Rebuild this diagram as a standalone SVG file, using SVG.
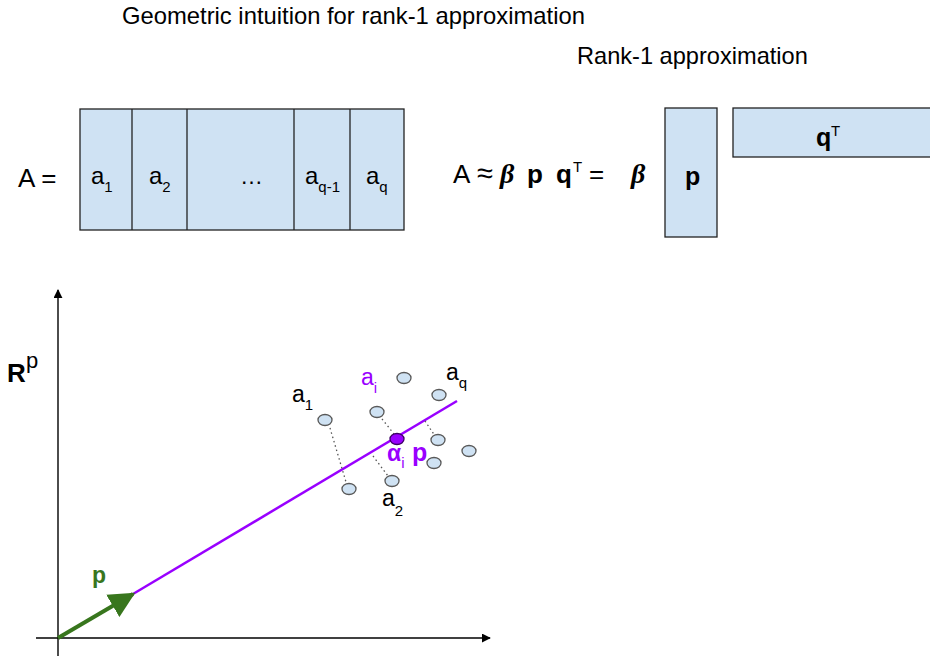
<svg xmlns="http://www.w3.org/2000/svg" width="930" height="656" viewBox="0 0 930 656">
<defs>
<style>
.t{font-family:"Liberation Sans",Arial,sans-serif;fill:#000}
.box{fill:#cfe2f3;stroke:#222;stroke-width:1.3}
.dot{fill:#cfe2f3;stroke:#595959;stroke-width:1.3}
.dotted{stroke:#555;stroke-width:1.3;stroke-dasharray:1.5,3;fill:none}
.beta{font-family:"Liberation Serif","Times New Roman",serif;font-weight:bold;font-style:italic}
.pur{fill:#9900ff}
.grn{fill:#38761d}
</style>
<marker id="axh" viewBox="0 0 10 10" refX="9" refY="5" markerWidth="9" markerHeight="9" markerUnits="userSpaceOnUse" orient="auto">
<path d="M0,0 L10,5 L0,10 z" fill="#000"/>
</marker>
<marker id="gh" viewBox="0 0 10 10" refX="9" refY="5" markerWidth="6.5" markerHeight="6.5" orient="auto">
<path d="M0,0 L10,5 L0,10 z" fill="#38761d"/>
</marker>
</defs>
<rect width="930" height="656" fill="#fff"/>

<g id="titles">
<text class="t" x="122" y="24" font-size="23.8">Geometric intuition for rank-1 approximation</text>
<text class="t" x="577" y="64" font-size="23.6">Rank-1 approximation</text>
</g>

<g id="matrixA">
<text class="t" x="18" y="187" font-size="26">A =</text>
<rect class="box" x="80" y="109" width="324" height="121"/>
<line x1="132" y1="109" x2="132" y2="230" stroke="#222" stroke-width="1.3"/>
<line x1="187" y1="109" x2="187" y2="230" stroke="#222" stroke-width="1.3"/>
<line x1="294" y1="109" x2="294" y2="230" stroke="#222" stroke-width="1.3"/>
<line x1="350" y1="109" x2="350" y2="230" stroke="#222" stroke-width="1.3"/>
<text class="t" x="91" y="184" font-size="24">a<tspan font-size="15" dy="8">1</tspan></text>
<text class="t" x="149" y="184" font-size="24">a<tspan font-size="15" dy="8">2</tspan></text>
<text class="t" x="240" y="184" font-size="23">…</text>
<text class="t" x="305" y="184" font-size="24">a<tspan font-size="15" dy="8">q-1</tspan></text>
<text class="t" x="366" y="184" font-size="24">a<tspan font-size="15" dy="8">q</tspan></text>
</g>

<g id="formula">
<text class="t" x="453" y="183" font-size="26">A</text>
<text class="t" x="477" y="183" font-size="29">≈</text>
<text class="t beta" x="500" y="183" font-size="28">β</text>
<text class="t" x="527" y="183" font-size="26" font-weight="bold">p</text>
<text class="t" x="556" y="183" font-size="26" font-weight="bold">q</text>
<text class="t" x="573" y="172" font-size="15">T</text>
<text class="t" x="589" y="183" font-size="26">=</text>
<text class="t beta" x="631" y="183" font-size="28">β</text>
</g>

<g id="vecP">
<rect class="box" x="665" y="108" width="52" height="129"/>
<text class="t" x="685" y="185" font-size="25" font-weight="bold">p</text>
</g>

<g id="vecQT">
<rect class="box" x="733" y="108" width="200" height="49"/>
<text class="t" x="816" y="146" font-size="25" font-weight="bold">q</text>
<text class="t" x="831" y="136" font-size="15">T</text>
</g>

<g id="connectors">
<line x1="58" y1="656" x2="58" y2="290" stroke="#000" stroke-width="1.4" marker-end="url(#axh)"/>
<line x1="36" y1="638" x2="490" y2="638" stroke="#000" stroke-width="1.4" marker-end="url(#axh)"/>
<line x1="133" y1="594" x2="457" y2="401" stroke="#9900ff" stroke-width="2.5"/>
<line x1="58" y1="638" x2="133" y2="594" stroke="#38761d" stroke-width="4" marker-end="url(#gh)"/>
<line class="dotted" x1="330" y1="428" x2="346" y2="482"/>
<line class="dotted" x1="382" y1="419" x2="394" y2="434"/>
<line class="dotted" x1="373" y1="456" x2="388" y2="476"/>
<line class="dotted" x1="425" y1="421" x2="435" y2="436"/>
</g>

<g id="axisLabel">
<text class="t" x="7" y="382" font-size="26" font-weight="bold">R</text>
<text class="t" x="26" y="368" font-size="22">p</text>
</g>

<g id="greenP">
<text class="t grn" x="92" y="583" font-size="23" font-weight="bold">p</text>
</g>

<g id="points">
<ellipse class="dot" cx="325" cy="420" rx="7" ry="5.5"/>
<ellipse class="dot" cx="349" cy="489" rx="7" ry="5.5"/>
<ellipse class="dot" cx="377" cy="412" rx="7" ry="5.5"/>
<ellipse class="dot" cx="392" cy="481" rx="7" ry="5.5"/>
<ellipse class="dot" cx="404" cy="378" rx="7" ry="5.5"/>
<ellipse class="dot" cx="439" cy="395" rx="7" ry="5.5"/>
<ellipse class="dot" cx="438" cy="440" rx="7" ry="5.5"/>
<ellipse class="dot" cx="469" cy="451" rx="7" ry="5.5"/>
<ellipse class="dot" cx="434" cy="463" rx="7" ry="5.5"/>
<ellipse cx="397" cy="439" rx="7" ry="5.5" fill="#9900ff" stroke="#3d0066" stroke-width="1.3"/>
</g>

<g id="pointLabels">
<text class="t" x="292" y="402" font-size="23">a<tspan font-size="15" dy="8">1</tspan></text>
<text class="t pur" x="361" y="385" font-size="23">a<tspan font-size="15" dy="8">i</tspan></text>
<text class="t" x="446" y="380" font-size="23">a<tspan font-size="15" dy="8">q</tspan></text>
<text class="t" x="382" y="506" font-size="23">a<tspan font-size="15" dy="10">2</tspan></text>
<text class="t pur" x="387" y="461" font-size="23" font-weight="bold">α<tspan font-size="15" dy="7" font-weight="normal">i</tspan></text>
<text class="t pur" x="412" y="461" font-size="25" font-weight="bold">p</text>
</g>
</svg>
